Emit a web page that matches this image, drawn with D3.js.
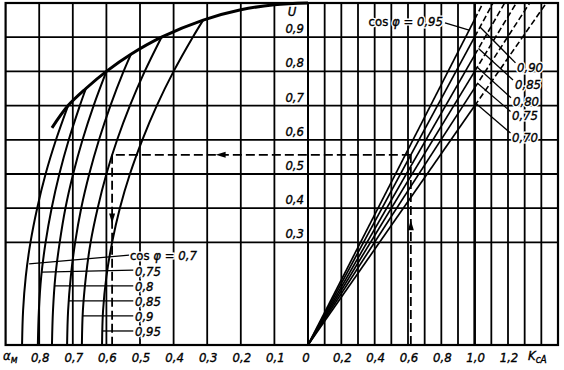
<!DOCTYPE html>
<html><head><meta charset="utf-8">
<script src="https://cdn.jsdelivr.net/npm/d3@7"></script>
<style>
body{margin:0;background:#fff}
text{font-family:"DejaVu Sans Condensed","DejaVu Sans",sans-serif;font-style:italic;font-size:13px;fill:#000}
</style>
</head><body>
<svg id="c" width="564" height="370"></svg>
<script>
// ---------- data ----------
const cosPhi = [0.7, 0.75, 0.8, 0.85, 0.9, 0.95];
const cosLabelsLeft = ["0,7", "0,75", "0,8", "0,85", "0,9", "0,95"];
const cosLabelsRight = ["0,70", "0,75", "0,80", "0,85", "0,90", "0,95"];
const alphaTicks = [0.8, 0.7, 0.6, 0.5, 0.4, 0.3, 0.2, 0.1];
const alphaTickLabels = ["0,8", "0,7", "0,6", "0,5", "0,4", "0,3", "0,2", "0,1"];
const kcTicks = [0, 0.2, 0.4, 0.6, 0.8, 1.0, 1.2];
const kcTickLabels = ["0", "0,2", "0,4", "0,6", "0,8", "1,0", "1,2"];
const uTicks = [0.9, 0.8, 0.7, 0.6, 0.5, 0.4, 0.3];
const uTickLabels = ["0,9", "0,8", "0,7", "0,6", "0,5", "0,4", "0,3"];
const alphaGrid = [0.1, 0.2, 0.3, 0.4, 0.5, 0.6, 0.7, 0.8];
const kcGrid = [0.1, 0.2, 0.3, 0.4, 0.5, 0.6, 0.7, 0.8, 0.9, 1.0, 1.1, 1.2, 1.3, 1.4];
const uGrid = [0.3, 0.4, 0.5, 0.6, 0.7, 0.8, 0.9];

// envelope (alpha, U)
const envelope = [[0.762,0.635],[0.714,0.70],[0.661,0.75],[0.60,0.80],[0.527,0.85],[0.436,0.90],[0.312,0.95],[0.20,0.98],[0.10,0.995],[0,1.0]];
// left curves (alpha, U) for each cos phi
const curve070 = [[0.714,0.70],[0.750,0.60],[0.781,0.50],[0.806,0.40],[0.826,0.30],[0.840,0.20],[0.848,0.10],[0.851,0]];
const curve075 = [[0.661,0.75],[0.679,0.70],[0.712,0.60],[0.740,0.50],[0.763,0.40],[0.781,0.30],[0.794,0.20],[0.801,0.10],[0.804,0]];
const curve080 = [[0.600,0.80],[0.638,0.70],[0.671,0.60],[0.699,0.50],[0.722,0.40],[0.739,0.30],[0.752,0.20],[0.759,0.10],[0.762,0]];
const curve085 = [[0.527,0.85],[0.549,0.80],[0.588,0.70],[0.622,0.60],[0.651,0.50],[0.675,0.40],[0.693,0.30],[0.706,0.20],[0.714,0.10],[0.717,0]];
const curve090 = [[0.436,0.90],[0.486,0.80],[0.530,0.70],[0.568,0.60],[0.600,0.50],[0.626,0.40],[0.647,0.30],[0.661,0.20],[0.670,0.10],[0.673,0]];
const curve095 = [[0.312,0.95],[0.343,0.90],[0.400,0.80],[0.450,0.70],[0.493,0.60],[0.530,0.50],[0.560,0.40],[0.583,0.30],[0.600,0.20],[0.610,0.10],[0.613,0]];
const leftCurves = [curve070, curve075, curve080, curve085, curve090, curve095];

// right straight lines: Kc reached at U = 1 for each cos phi
const kcAtU1 = [1.43, 1.33, 1.25, 1.18, 1.11, 1.05];

// left labels: text position, leader start (alpha,U), leader end (alpha,U)
const leftLabelAlpha = [0.530, 0.515, 0.515, 0.515, 0.515, 0.515];
const leftLabelU = [0.262, 0.214, 0.170, 0.127, 0.083, 0.039];
const leftLeaderStart = [[0.532,0.263],[0.520,0.219],[0.520,0.173],[0.520,0.129],[0.520,0.085],[0.520,0.041]];
const leftLeaderEnd = [[0.830,0.237],[0.792,0.213],[0.754,0.173],[0.713,0.129],[0.671,0.085],[0.612,0.041]];

// right labels (Kc, U) for 0.70..0.90, and leaders
const rightLabelKc = [1.224, 1.224, 1.230, 1.242, 1.254];
const rightLabelU = [0.608, 0.670, 0.711, 0.763, 0.813];
const rightLeaderStart = [[1.215,0.620],[1.215,0.683],[1.218,0.723],[1.230,0.775],[1.245,0.825]];
const rightLeaderEnd = [[1.008,0.706],[1.017,0.765],[1.014,0.813],[1.023,0.867],[1.032,0.930]];
const topLabelEnd = [0.81, 0.947];
const topLeader = [[0.822,0.942],[0.967,0.921]];

// worked example (dashed)
const exampleKc = 0.617, exampleU = 0.556, exampleAlpha = 0.583;
const arrowUpU = 0.35, arrowLeftAlpha = 0.26, arrowDownU = 0.37;

// ---------- scales ----------
const svg = d3.select("#c");
const xL = d3.scaleLinear().domain([0.9, 0]).range([5.6, 308]);
const xR = d3.scaleLinear().domain([0, 1.5]).range([308, 558]);
const y = d3.scaleLinear().domain([0, 1]).range([345, 3]);

svg.append("rect").attr("width",564).attr("height",370).attr("fill","#fff");

const g = svg.append("g");
// grid
g.selectAll(".vl").data(alphaGrid).join("line")
  .attr("x1", d=>xL(d)).attr("x2", d=>xL(d)).attr("y1", y(0)).attr("y2", y(1))
  .attr("stroke","#000").attr("stroke-width",1.8);
g.selectAll(".vr").data(kcGrid).join("line")
  .attr("x1", d=>xR(d)).attr("x2", d=>xR(d)).attr("y1", y(0)).attr("y2", y(1))
  .attr("stroke","#000").attr("stroke-width", d=> d===1.0 ? 2.6 : 1.8);
g.selectAll(".h").data(uGrid).join("line")
  .attr("x1", xL(0.9)).attr("x2", xR(1.5)).attr("y1", d=>y(d)).attr("y2", d=>y(d))
  .attr("stroke","#000").attr("stroke-width",1.8);
// zero axis
g.append("line").attr("x1", xR(0)).attr("x2", xR(0)).attr("y1", y(0)).attr("y2", y(1))
  .attr("stroke","#000").attr("stroke-width",2);
// frame
g.append("rect").attr("x", xL(0.9)).attr("y", y(1)).attr("width", xR(1.5)-xL(0.9)).attr("height", y(0)-y(1))
  .attr("fill","none").attr("stroke","#000").attr("stroke-width",2.2);

// envelope
const lineL = d3.line().x(d=>xL(d[0])).y(d=>y(d[1])).curve(d3.curveCatmullRom);
g.append("path").attr("d", lineL(envelope)).attr("fill","none").attr("stroke","#000").attr("stroke-width",3);
// left curves
g.selectAll(".lc").data(leftCurves).join("path")
  .attr("d", d=>lineL(d)).attr("fill","none").attr("stroke","#000").attr("stroke-width",2);

// right lines
const lineR = d3.line().x(d=>xR(d[0])).y(d=>y(d[1]));
kcAtU1.forEach(k=>{
  const uAt1 = 1/k;
  g.append("path").attr("d", lineR([[0,0],[1.0, Math.min(1,uAt1)]]))
    .attr("fill","none").attr("stroke","#000").attr("stroke-width",1.7);
  if (k > 1) {
    g.append("path").attr("d", lineR([[1.0,uAt1],[k,1]]))
      .attr("fill","none").attr("stroke","#000").attr("stroke-width",1.6).attr("stroke-dasharray","6,3");
  }
});

// worked example dashed
const dashStyle = sel => sel.attr("fill","none").attr("stroke","#000").attr("stroke-width",1.8).attr("stroke-dasharray","9,4");
g.append("line").attr("x1", xR(exampleKc)).attr("x2", xR(exampleKc)).attr("y1", y(0)).attr("y2", y(exampleU)).call(dashStyle);
g.append("line").attr("x1", xR(exampleKc)).attr("x2", xL(exampleAlpha)).attr("y1", y(exampleU)).attr("y2", y(exampleU)).call(dashStyle);
g.append("line").attr("x1", xL(exampleAlpha)).attr("x2", xL(exampleAlpha)).attr("y1", y(exampleU)).attr("y2", y(0)).call(dashStyle);
// arrowheads
function arrow(x, yy, dir){
  const L = 10, W = 3;
  let pts;
  if (dir==="up") pts = [[x,yy-L/2],[x-W,yy+L/2],[x+W,yy+L/2]];
  if (dir==="down") pts = [[x,yy+L/2],[x-W,yy-L/2],[x+W,yy-L/2]];
  if (dir==="left") pts = [[x-L/2,yy],[x+L/2,yy-W],[x+L/2,yy+W]];
  g.append("path").attr("d","M"+pts.map(p=>p.join(",")).join("L")+"Z").attr("fill","#000");
}
arrow(xR(exampleKc), y(arrowUpU), "up");
arrow(xL(arrowLeftAlpha), y(exampleU), "left");
arrow(xL(exampleAlpha), y(arrowDownU), "down");

// leaders left
const leaderStyle = sel => sel.attr("stroke","#000").attr("stroke-width",1.3);
leftLeaderStart.forEach((s,i)=>{
  const e = leftLeaderEnd[i];
  g.append("line").attr("x1", xL(s[0])).attr("y1", y(s[1])).attr("x2", xL(e[0])).attr("y2", y(e[1])).call(leaderStyle);
});
// leaders right
rightLeaderStart.forEach((s,i)=>{
  const e = rightLeaderEnd[i];
  g.append("line").attr("x1", xR(s[0])).attr("y1", y(s[1])).attr("x2", xR(e[0])).attr("y2", y(e[1])).call(leaderStyle);
});
g.append("line").attr("x1", xR(topLeader[0][0])).attr("y1", y(topLeader[0][1]))
  .attr("x2", xR(topLeader[1][0])).attr("y2", y(topLeader[1][1])).call(leaderStyle);

// ---------- text ----------
const T = svg.append("g");
// draw text twice: a white knockout, then a slightly heavy black copy
function label(x, yy, parts, opts){
  opts = opts || {};
  [true,false].forEach(halo=>{
    const t = T.append("text").attr("x", x).attr("y", yy);
    if (opts.dy) t.attr("dy", opts.dy);
    if (opts.anchor) t.attr("text-anchor", opts.anchor);
    if (halo) { if (!opts.halo) { t.remove(); return; } t.attr("stroke","#fff").attr("stroke-width",3).style("fill","#fff"); }
    else t.attr("stroke","#000").attr("stroke-width",0.35);
    parts.forEach(p=>{
      const s = t.append("tspan").text(p.t);
      if (p.upright) s.style("font-style","normal");
      if (p.sub) s.attr("dy",3).style("font-size","10px");
    });
  });
}
// left cos phi labels
cosLabelsLeft.forEach((lab,i)=>{
  const parts = i===0 ? [{t:"cos ",upright:true},{t:"φ = " + lab}] : [{t:lab}];
  label(xL(leftLabelAlpha[i]), y(leftLabelU[i]), parts, {dy:"0.35em", halo:true});
});
// right labels
[0,1,2,3,4].forEach(i=>{
  label(xR(rightLabelKc[i]), y(rightLabelU[i]), [{t:cosLabelsRight[i]}], {dy:"0.35em", halo:true});
});
label(xR(topLabelEnd[0]), y(topLabelEnd[1]), [{t:"cos ",upright:true},{t:"φ = " + cosLabelsRight[5]}], {dy:"0.35em", anchor:"end", halo:true});

// U axis labels
uTicks.forEach((u,i)=>{
  label(xR(0)-4, y(u)-4, [{t:uTickLabels[i]}], {anchor:"end", halo:true});
});
label(xR(0)-16, y(1)+13, [{t:"U"}], {anchor:"middle"});

// bottom labels
alphaTicks.forEach((a,i)=>{
  label(xL(a)+1, 362, [{t:alphaTickLabels[i]}], {anchor:"middle"});
});
kcTicks.forEach((k,i)=>{
  label(xR(k) + (k===0?-2:1), 362, [{t:kcTickLabels[i]}], {anchor:"middle"});
});
label(3, 360, [{t:"α"},{t:"м",sub:true}]);
label(528, 360, [{t:"K"},{t:"cA",sub:true}]);
</script>
</body></html>
